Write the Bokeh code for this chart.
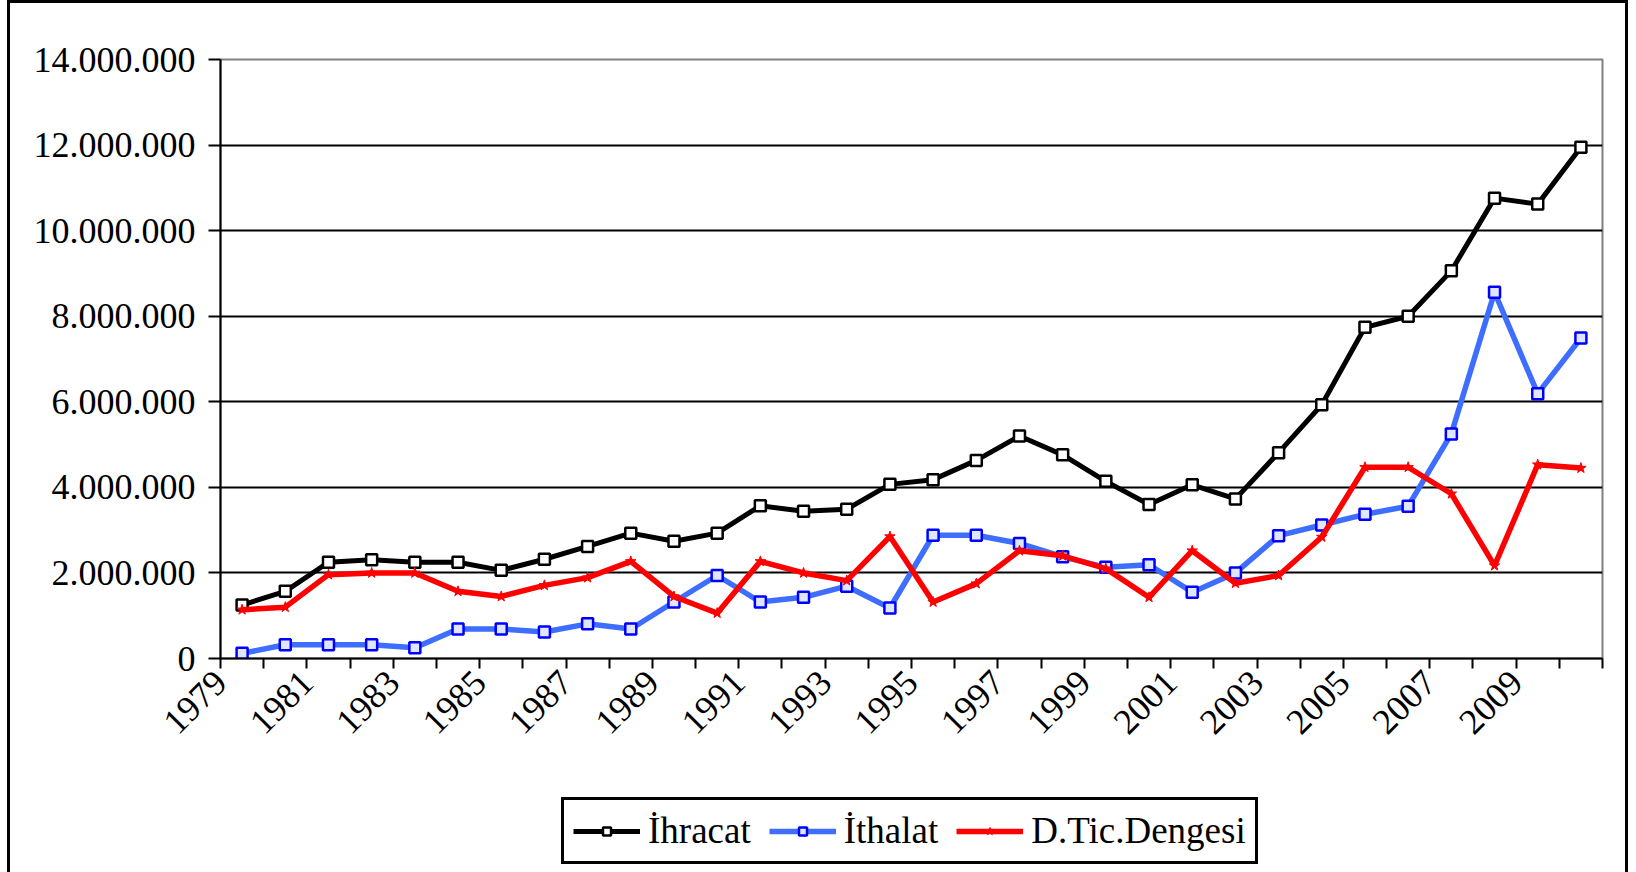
from math import pi
from bokeh.plotting import figure
from bokeh.layouts import column
from bokeh.models import (Range1d, FixedTicker, Legend, LegendItem, ColumnDataSource,
                          AllLabels)
from bokeh.transform import dodge
from bokeh.embed import file_html
from bokeh.resources import INLINE

years = list(range(1979, 2011))
ihracat = [1250000, 1570000, 2250000, 2310000, 2250000, 2250000, 2060000, 2320000,
           2620000, 2930000, 2740000, 2930000, 3570000, 3440000, 3490000, 4070000,
           4180000, 4630000, 5200000, 4760000, 4140000, 3600000, 4060000, 3730000,
           4810000, 5930000, 7740000, 8000000, 9060000, 10760000, 10620000, 11950000]
ithalat = [120000, 320000, 320000, 320000, 250000, 690000, 690000, 620000,
           810000, 690000, 1320000, 1940000, 1320000, 1430000, 1690000, 1180000,
           2880000, 2880000, 2690000, 2380000, 2130000, 2190000, 1550000, 2000000,
           2870000, 3120000, 3370000, 3560000, 5250000, 8560000, 6190000, 7490000]
denge = [1140000, 1200000, 1960000, 2000000, 2000000, 1570000, 1450000, 1710000,
         1890000, 2270000, 1450000, 1060000, 2270000, 2000000, 1820000, 2850000,
         1320000, 1750000, 2520000, 2400000, 2100000, 1430000, 2520000, 1760000,
         1940000, 2840000, 4470000, 4470000, 3850000, 2170000, 4530000, 4450000]
series_names = ["İhracat", "İthalat", "D.Tic.Dengesi"]
y_ticks = [0, 2000000, 4000000, 6000000, 8000000, 10000000, 12000000, 14000000]
x_labels = [str(y) for y in range(1979, 2010, 2)]

src = ColumnDataSource(dict(year=years, ihr=ihracat, ith=ithalat, den=denge))

FONT = "Liberation Serif"
W = 1621

p = figure(width=W, height=780, output_backend="svg", toolbar_location=None,
           x_range=Range1d(1979, 2011), y_range=Range1d(0, 14000000),
           min_border_left=213, min_border_right=26, min_border_top=59,
           min_border_bottom=122)
p.outline_line_color = "#808080"
p.outline_line_width = 2
p.background_fill_color = "white"
p.border_fill_color = None

# axes
xt = list(range(1979, 2012))
p.xaxis.ticker = FixedTicker(ticks=xt)
p.xaxis.major_label_overrides = {t: (str(t) if str(t) in x_labels else "") for t in xt}
p.xaxis.major_label_policy = AllLabels()
p.xaxis.major_label_orientation = pi / 4
p.xaxis.minor_tick_line_color = None
p.xaxis.major_tick_in = 0
p.xaxis.major_tick_out = 10
p.xaxis.major_tick_line_width = 2
p.xaxis.axis_line_width = 2
p.xaxis.major_label_text_font = FONT
p.xaxis.major_label_text_font_size = "36px"
p.xaxis.major_label_text_color = "black"
p.xaxis.major_label_standoff = 8

p.yaxis.ticker = FixedTicker(ticks=y_ticks)
p.yaxis.major_label_overrides = {t: f"{t:,}".replace(",", ".") for t in y_ticks}
p.yaxis.minor_tick_line_color = None
p.yaxis.major_tick_in = 0
p.yaxis.major_tick_out = 12
p.yaxis.major_tick_line_width = 2
p.yaxis.axis_line_width = 2
p.yaxis.major_label_text_font = FONT
p.yaxis.major_label_text_font_size = "36px"
p.yaxis.major_label_text_color = "black"
p.yaxis.major_label_standoff = 13

p.xgrid.grid_line_color = None
p.ygrid.ticker = FixedTicker(ticks=y_ticks[1:-1])
p.ygrid.grid_line_color = "black"
p.ygrid.grid_line_width = 2

xs = dodge("year", 0.5, range=p.x_range)

styles = [
    dict(line=dict(line_color="black", line_width=5),
         mark=dict(marker="square", size=11, fill_color="white", line_color="black", line_width=2.5)),
    dict(line=dict(line_color="#3D6EFF", line_width=5.5),
         mark=dict(marker="square", size=11, fill_color="#dfe6ff", line_color="#0000FF", line_width=2.5)),
    dict(line=dict(line_color="#FF0000", line_width=5.5),
         mark=dict(marker="star", size=11, fill_color="#FF0000", line_color="#FF0000", line_width=1)),
]
cols = ["ihr", "ith", "den"]
for c, st in zip(cols, styles):
    p.line(x=xs, y=c, source=src, **st["line"])
    p.scatter(x=xs, y=c, source=src, **st["mark"])

# legend strip below the chart (its renderers sit outside its visible range)
p2 = figure(width=W, height=92, output_backend="svg", toolbar_location=None,
            x_range=Range1d(0, 1), y_range=Range1d(0, 1),
            x_axis_type=None, y_axis_type=None, min_border=0)
p2.outline_line_color = None
p2.background_fill_color = None
p2.border_fill_color = None
items = []
for name, st in zip(series_names, styles):
    rl = p2.line(x=[-5, -4], y=[-5, -4], **st["line"])
    rm = p2.scatter(x=[-5, -4], y=[-5, -4], **{**st["mark"], "size": 9})
    items.append(LegendItem(label=name, renderers=[rl, rm]))
legend = Legend(items=items, location=(341, 8), orientation="horizontal",
                label_text_font=FONT, label_text_font_size="37px",
                label_text_color="black", glyph_width=67, glyph_height=20,
                label_standoff=8, spacing=18, padding=9, margin=0,
                border_line_color="black", border_line_width=3, border_line_alpha=1,
                background_fill_color="white", background_fill_alpha=1)
p2.add_layout(legend)

layout = column(p, p2, spacing=0)
layout.styles = {"margin-left": "7px", "background-color": "white",
                 "box-shadow": "inset 3px 3px 0 0 black, inset -3px 0 0 0 black"}

open("out.html", "w").write(file_html(layout, INLINE))
